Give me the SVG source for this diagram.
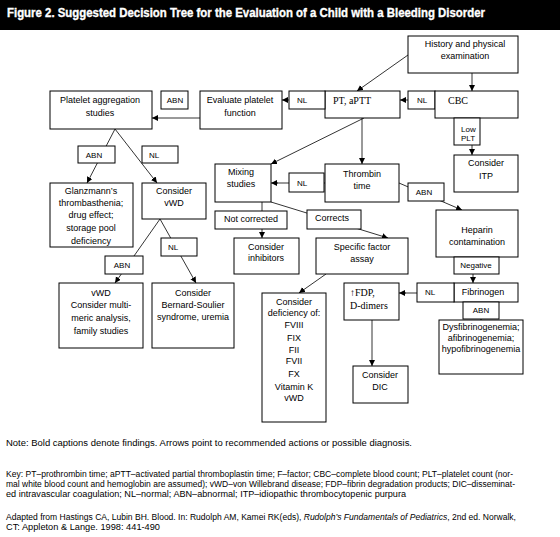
<svg xmlns="http://www.w3.org/2000/svg" width="560" height="537" viewBox="0 0 560 537">
<defs>
<marker id="ah" markerUnits="userSpaceOnUse" markerWidth="7" markerHeight="7" refX="6" refY="3" orient="auto">
<path d="M0,0 L6,3 L0,6 z" fill="#000"/>
</marker>
<style>
rect{fill:#fff;stroke:#000;stroke-width:1}
text{font-family:"Liberation Sans",Arial,sans-serif;font-size:9px;fill:#000;text-anchor:middle}
.s{font-family:"Liberation Serif","Times New Roman",serif;font-size:10px;text-anchor:start}
.sm{font-size:8px}
.l{text-anchor:start}
.c line{stroke:#000;stroke-width:0.8}
.c line.a{marker-end:url(#ah)}
.c line.g{stroke:#999;stroke-width:2}
.f{font-size:8.5px;text-anchor:start}
</style>
</defs>
<rect x="0" y="0" width="560" height="30" style="fill:#000;stroke:none"/>
<text x="7" y="17" style="fill:#fff;stroke:#fff;stroke-width:0.35;font-weight:bold;font-size:12.5px;text-anchor:start" textLength="478" lengthAdjust="spacingAndGlyphs">Figure 2. Suggested Decision Tree for the Evaluation of a Child with a Bleeding Disorder</text>

<g class="c" id="connectors">
<line class="a" x1="408" y1="55" x2="357" y2="91"/>
<line class="a" x1="472" y1="73" x2="472" y2="91"/>
<line class="a" x1="435" y1="100" x2="400" y2="100"/>
<line class="a" x1="325" y1="100" x2="282" y2="100"/>
<line class="a" x1="200" y1="118" x2="152" y2="118"/>
<line class="a" x1="472" y1="118" x2="472" y2="155"/>
<line class="a" x1="362" y1="118" x2="362" y2="164"/>
<line class="a" x1="364" y1="118" x2="271" y2="164"/>
<line class="g" x1="325" y1="183" x2="276" y2="183"/>
<line class="a" x1="278" y1="183" x2="271" y2="183"/>
<line class="a" x1="399" y1="183" x2="462" y2="210"/>
<line class="a" x1="473" y1="257" x2="473" y2="283"/>
<line class="g" x1="454" y1="293" x2="404" y2="293"/>
<line class="a" x1="406" y1="293" x2="399" y2="293"/>
<line class="a" x1="481" y1="302" x2="481" y2="320"/>
<line class="a" x1="372" y1="320" x2="372" y2="366"/>
<line class="a" x1="262" y1="202" x2="262" y2="238"/>
<line class="a" x1="271" y1="202" x2="388" y2="238"/>
<line class="a" x1="326" y1="274" x2="299" y2="293"/>
<line class="a" x1="115" y1="129" x2="87" y2="183"/>
<line class="a" x1="115" y1="129" x2="157" y2="183"/>
<line class="a" x1="160" y1="219" x2="115" y2="283"/>
<line class="a" x1="160" y1="219" x2="196" y2="283"/>
</g>

<g id="history"><rect x="408" y="36" width="110" height="37"/><text x="465" y="47">History and physical</text><text x="465" y="59">examination</text></g>
<g id="pt"><rect x="325" y="91" width="75" height="27"/><text class="s" x="333" y="104">PT, aPTT</text></g>
<g id="nl-pt"><rect x="289" y="91" width="36" height="18"/><text class="sm" x="302" y="103">NL</text></g>
<g id="evaluate"><rect x="200" y="91" width="82" height="38"/><text x="240" y="103">Evaluate platelet</text><text x="240" y="116">function</text></g>
<g id="abn-eval"><rect x="161" y="91" width="27" height="18"/><text class="sm" x="175" y="103">ABN</text></g>
<g id="platelet"><rect x="50" y="91" width="102" height="38"/><text x="100" y="103">Platelet aggregation</text><text x="100" y="116">studies</text></g>
<g id="nl-cbc"><rect x="408" y="91" width="27" height="18"/><text class="sm" x="422" y="103">NL</text></g>
<g id="cbc"><rect x="435" y="91" width="83" height="27"/><text class="s" x="448" y="104">CBC</text></g>
<g id="lowplt"><rect x="454" y="118" width="26" height="27"/><text class="l sm" x="461" y="132">Low</text><text class="l sm" x="461" y="141">PLT</text></g>
<g id="itp"><rect x="454" y="155" width="64" height="37"/><text x="486" y="166">Consider</text><text x="486" y="179">ITP</text></g>
<g id="abn-pa"><rect x="78" y="146" width="37" height="17"/><text class="sm" x="94" y="158">ABN</text></g>
<g id="nl-pa"><rect x="142" y="146" width="36" height="17"/><text class="sm" x="154" y="158">NL</text></g>
<g id="glanzmann"><rect x="50" y="183" width="83" height="64"/><text x="91" y="194">Glanzmann’s</text><text x="91" y="206">thrombasthenia;</text><text x="91" y="218">drug effect;</text><text x="91" y="231">storage pool</text><text x="91" y="244">deficiency</text></g>
<g id="considervwd"><rect x="142" y="183" width="64" height="36"/><text x="174" y="194">Consider</text><text x="174" y="206">vWD</text></g>
<g id="abn-vwd"><rect x="105" y="256" width="38" height="18"/><text class="sm" x="122" y="268">ABN</text></g>
<g id="nl-vwd"><rect x="161" y="238" width="36" height="18"/><text class="sm" x="173" y="250">NL</text></g>
<g id="vwd"><rect x="59" y="283" width="84" height="65"/><text x="101" y="296">vWD</text><text x="101" y="308">Consider multi-</text><text x="101" y="321">meric analysis,</text><text x="101" y="334">family studies</text></g>
<g id="bernard"><rect x="152" y="283" width="82" height="65"/><text x="193" y="296">Consider</text><text x="193" y="308">Bernard-Soulier</text><text x="193" y="320">syndrome, uremia</text></g>
<g id="mixing"><rect x="215" y="164" width="56" height="38"/><text x="241" y="175">Mixing</text><text x="241" y="187">studies</text></g>
<g id="nl-thr"><rect x="289" y="173" width="35" height="19"/><text class="sm" x="302" y="186">NL</text></g>
<g id="thrombin"><rect x="325" y="164" width="74" height="38"/><text x="362" y="177">Thrombin</text><text x="362" y="189">time</text></g>
<g id="abn-thr"><rect x="408" y="183" width="36" height="18"/><text class="sm" x="424" y="195">ABN</text></g>
<g id="heparin"><rect x="436" y="210" width="82" height="47"/><text x="477" y="233">Heparin</text><text x="477" y="245">contamination</text></g>
<g id="negative"><rect x="454" y="257" width="45" height="17"/><text class="sm" x="476" y="268">Negative</text></g>
<g id="fibrinogen"><rect x="454" y="283" width="64" height="19"/><text x="483" y="295">Fibrinogen</text></g>
<g id="nl-fib"><rect x="417" y="283" width="37" height="19"/><text class="sm" x="430" y="295">NL</text></g>
<g id="abn-fib"><rect x="463" y="302" width="36" height="17"/><text class="sm" x="481" y="313">ABN</text></g>
<g id="dys"><rect x="439" y="320" width="84" height="54"/><text x="481" y="330">Dysfibrinogenemia;</text><text x="481" y="341">afibrinogenemia;</text><text x="481" y="352">hypofibrinogenemia</text></g>
<g id="fdp"><rect x="344" y="283" width="55" height="37"/><text class="s" x="350" y="296">↑FDP,</text><text class="s" x="350" y="309">D-dimers</text></g>
<g id="dic"><rect x="353" y="366" width="55" height="37"/><text x="380" y="378">Consider</text><text x="380" y="390">DIC</text></g>
<g id="notcorrected"><rect x="215" y="211" width="72" height="18"/><text x="251" y="222">Not corrected</text></g>
<g id="inhibitors"><rect x="234" y="238" width="65" height="36"/><text x="266" y="250">Consider</text><text x="266" y="261">inhibitors</text></g>
<g id="corrects"><rect x="307" y="210" width="54" height="19"/><text x="332" y="221">Corrects</text></g>
<g id="specific"><rect x="316" y="238" width="92" height="36"/><text x="362" y="250">Specific factor</text><text x="362" y="262">assay</text></g>
<g id="deficiency"><rect x="262" y="293" width="64" height="129"/><text x="294" y="305">Consider</text><text x="294" y="316">deficiency of:</text><text x="294" y="328">FVIII</text><text x="294" y="341">FIX</text><text x="294" y="353">FII</text><text x="294" y="364">FVII</text><text x="294" y="377">FX</text><text x="294" y="390">Vitamin K</text><text x="294" y="401">vWD</text></g>

<g id="footer">
<text class="f" x="6" y="446" textLength="406" lengthAdjust="spacingAndGlyphs">Note: Bold captions denote findings. Arrows point to recommended actions or possible diagnosis.</text>
<text class="f" x="6" y="477" textLength="507" lengthAdjust="spacingAndGlyphs">Key: PT–prothrombin time; aPTT–activated partial thromboplastin time; F–factor; CBC–complete blood count; PLT–platelet count (nor-</text>
<text class="f" x="6" y="487" textLength="509" lengthAdjust="spacingAndGlyphs">mal white blood count and hemoglobin are assumed); vWD–von Willebrand disease; FDP–fibrin degradation products; DIC–disseminat-</text>
<text class="f" x="6" y="497" textLength="400" lengthAdjust="spacingAndGlyphs">ed intravascular coagulation; NL–normal; ABN–abnormal; ITP–idiopathic thrombocytopenic purpura</text>
<text class="f" x="6" y="520" textLength="510" lengthAdjust="spacingAndGlyphs">Adapted from Hastings CA, Lubin BH. Blood. In: Rudolph AM, Kamei RK(eds), <tspan font-style="italic">Rudolph’s Fundamentals of Pediatrics</tspan>, 2nd ed. Norwalk,</text>
<text class="f" x="6" y="530" textLength="154" lengthAdjust="spacingAndGlyphs">CT: Appleton &amp; Lange. 1998: 441-490</text>
</g>
</svg>
